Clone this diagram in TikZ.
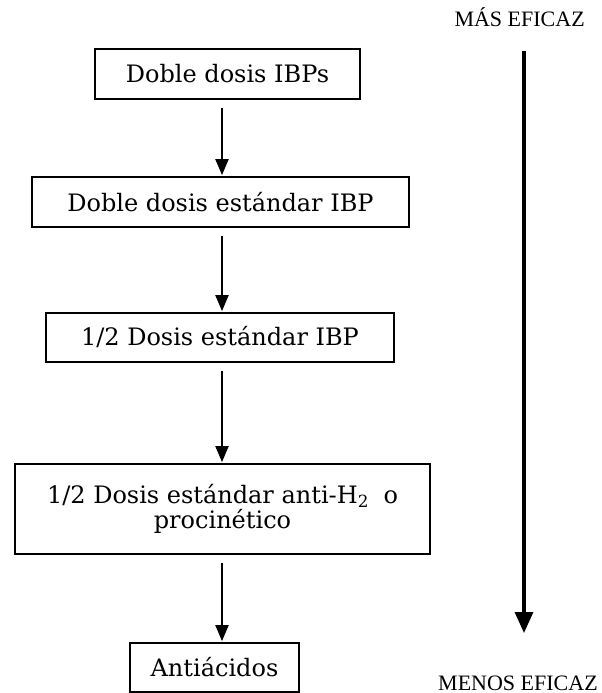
\documentclass[tikz,border=0pt]{standalone}
\usepackage{fontspec}
\setmainfont{DejaVu Serif}
\newfontfamily\labelfont{Liberation Serif}
\usetikzlibrary{arrows.meta}
\tikzset{
  boxnode/.style={draw=black, line width=0.8pt, rectangle, inner sep=0pt, align=center,
    font=\fontsize{18}{19}\selectfont},
  smallarrow/.style={line width=1.5pt, -{Triangle[length=12pt,width=9.75pt]}},
  bigarrow/.style={line width=2.5pt, -{Triangle[length=15.75pt,width=13.5pt]}},
  sidelabel/.style={inner sep=0pt, font=\labelfont\fontsize{16.5}{18}\selectfont}
}
\begin{document}
\begin{tikzpicture}[x=0.75pt,y=-0.75pt]
\useasboundingbox (0,0) rectangle (601,693);
\node[boxnode, minimum width=198.75pt, minimum height=37.5pt] (b1) at (227.5,74) {Doble dosis IBPs};
\node[boxnode, minimum width=282.75pt, minimum height=37.5pt] (b2) at (220.5,202) {Doble dosis estándar IBP};
\node[boxnode, minimum width=261pt, minimum height=36.75pt] (b3) at (220,337.5) {1/2 Dosis estándar IBP};
\node[boxnode, minimum width=311.25pt, minimum height=67.5pt] (b4) at (222.5,509) {1/2 Dosis estándar anti-H\textsubscript{2}\hspace{0.6em}o\\procinético};
\node[boxnode, minimum width=126.75pt, minimum height=36.75pt] (b5) at (214.5,667.5) {Antiácidos};
\coordinate (ax) at (222,0);
\draw[smallarrow, shorten <=6pt, shorten >=1pt] (b1.south -| ax) -- (b2.north -| ax);
\draw[smallarrow, shorten <=6pt, shorten >=1pt] (b2.south -| ax) -- (b3.north -| ax);
\draw[smallarrow, shorten <=6pt, shorten >=1pt] (b3.south -| ax) -- (b4.north -| ax);
\draw[smallarrow, shorten <=6pt, shorten >=1pt] (b4.south -| ax) -- (b5.north -| ax);
\node[sidelabel, anchor=base east] (mas) at (585,26) {MÁS EFICAZ};
\node[sidelabel, anchor=base east] (menos) at (598,690) {MENOS EFICAZ};
\coordinate (top) at (524,51);
\coordinate (bot) at (524,633);
\draw[bigarrow] (top) -- (bot);
\end{tikzpicture}
\end{document}
